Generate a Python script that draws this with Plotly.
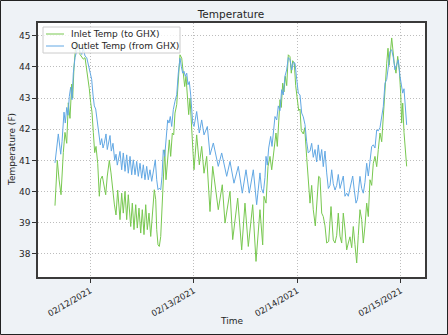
import pandas as pd
import plotly.graph_objects as go

# hours relative to 2021-02-12 00:00
inlet_hours = [-8.19, -7.65, -7.26, -6.79, -6.26, -5.87, -5.47, -5.10, -4.71, -4.31, -4.08, -3.78, -3.32, -2.78,
               -2.39, -1.99, -1.62, -1.23, -0.83, -0.46, -0.23, 0.09, 0.39, 0.70, 1.02, 1.32, 1.72, 2.09, 2.41,
               2.78, 3.18, 3.57, 3.94, 4.41, 4.80, 5.19, 5.57, 5.96, 6.35, 6.89, 7.28, 7.65, 8.05, 8.44, 8.81,
               9.37, 9.74, 10.13, 10.53, 10.90, 11.29, 11.69, 12.06, 12.45, 12.85, 13.22, 13.61, 14.01, 14.38,
               14.84, 15.17, 15.40, 15.70, 16.00, 16.33, 16.63, 16.93, 17.25, 17.55, 17.95, 18.32, 18.64, 19.02,
               19.34, 19.64, 20.04, 20.41, 20.80, 21.20, 21.57, 21.89, 22.19, 22.49, 22.82, 23.12, 24.05, 24.67,
               25.28, 25.83, 26.37, 26.99, 27.76, 28.38, 29.68, 30.61, 31.24, 32.40, 33.02, 34.18, 35.11, 35.87,
               36.64, 37.66, 38.43, 39.35, 39.98, 40.28, 40.75, 41.21, 41.67, 42.07, 42.44, 43.06, 43.37, 43.69,
               43.99, 44.29, 44.62, 44.92, 45.22, 45.55, 45.92, 46.31, 46.61, 46.94, 47.31, 47.63, 48.00, 48.33,
               48.63, 48.93, 49.39, 49.72, 50.18, 50.55, 50.95, 51.34, 51.71, 52.18, 52.57, 52.96, 53.27, 53.66,
               54.03, 54.43, 54.82, 55.28, 55.82, 56.35, 56.75, 57.14, 57.51, 57.91, 58.30, 58.67, 59.06, 59.46,
               59.83, 60.22, 60.62, 60.99, 61.38, 61.78, 62.15, 62.54, 62.94, 63.31, 63.70, 64.10, 64.47, 64.86,
               65.26, 65.63, 66.02, 66.42, 66.79, 67.18, 67.58, 67.95, 68.34, 68.74, 69.04, 69.30, 69.90, 70.20,
               70.50, 70.89, 71.29, 71.66, 71.98, 72.21, 72.45, 72.75, 73.05, 73.37]
inlet_temp = [39.55, 41.00, 40.40, 39.90, 41.25, 41.90, 41.55, 42.85, 42.35, 43.45, 43.00, 44.00, 44.80, 44.75,
              44.40, 44.30, 44.25, 44.30, 43.95, 43.65, 43.30, 42.85, 42.55, 41.90, 41.25, 41.45, 40.90, 39.85,
              40.40, 40.50, 40.20, 39.90, 40.50, 41.00, 40.60, 40.05, 39.60, 39.25, 40.05, 39.10, 39.95, 39.31,
              40.01, 39.10, 39.90, 38.88, 39.63, 38.78, 39.58, 38.83, 39.47, 38.67, 39.42, 38.62, 39.58, 38.78,
              39.31, 38.56, 39.20, 40.06, 39.74, 38.78, 38.29, 38.24, 38.56, 39.42, 40.06, 41.34, 40.38, 41.13,
              41.66, 41.13, 41.88, 41.82, 42.52, 42.79, 43.53, 44.39, 44.28, 43.70, 43.37, 43.70, 43.11, 42.47,
              43.00, 40.70, 41.82, 40.86, 41.45, 40.59, 41.13, 39.36, 40.81, 39.42, 40.22, 38.99, 40.01, 38.46,
              39.79, 38.13, 39.63, 38.24, 39.58, 37.76, 39.42, 38.29, 39.85, 39.63, 40.80, 41.13, 40.70, 41.13,
              41.88, 41.45, 42.41, 42.95, 42.70, 43.48, 43.20, 43.70, 43.40, 44.39, 44.33, 43.80, 44.20, 44.12,
              43.40, 42.95, 42.60, 42.65, 41.95, 41.85, 42.05, 41.10, 40.27, 39.63, 40.20, 39.42, 38.90, 39.63,
              40.49, 40.45, 39.31, 39.20, 38.90, 38.35, 38.40, 39.52, 38.45, 38.35, 38.60, 39.31, 38.57, 38.35,
              39.31, 38.80, 38.13, 38.35, 38.55, 38.20, 38.88, 38.30, 37.71, 38.60, 39.42, 39.10, 38.35, 38.90,
              39.63, 39.20, 40.38, 40.20, 40.91, 41.13, 40.80, 41.35, 41.88, 41.60, 42.52, 43.20, 44.12, 44.60,
              44.05, 44.93, 44.40, 44.10, 43.80, 44.34, 43.90, 43.16, 42.20, 42.84, 41.90, 41.34, 40.81]

outlet_hours = [-8.19, -7.42, -6.86, -6.56, -6.10, -5.80, -5.47, -5.17, -4.87, -4.55, -4.24, -3.94, -3.55, -3.15,
                -2.78, -2.39, -1.99, -1.62, -1.23, -0.83, -0.46, -0.07, 0.32, 0.63, 0.93, 1.25, 1.62, 2.02, 2.32,
                2.64, 2.95, 3.25, 3.64, 3.94, 4.27, 4.57, 4.87, 5.26, 5.66, 5.96, 6.26, 6.59, 6.89, 7.28, 7.65,
                8.05, 8.44, 8.81, 9.21, 9.60, 9.97, 10.37, 10.76, 11.13, 11.53, 11.92, 12.29, 12.68, 13.08, 13.45,
                13.84, 14.24, 14.61, 15.07, 15.40, 15.70, 16.00, 16.33, 16.63, 16.93, 17.25, 17.55, 17.95, 18.25,
                18.55, 18.88, 19.25, 19.64, 20.04, 20.41, 20.80, 21.10, 21.43, 21.73, 22.03, 22.36, 22.66, 22.96,
                23.28, 23.75, 24.05, 24.67, 25.28, 25.83, 26.37, 27.14, 27.76, 28.53, 29.68, 30.47, 31.63, 32.40,
                33.32, 34.32, 35.25, 36.11, 36.87, 37.80, 38.58, 39.35, 39.70, 40.12, 40.51, 40.75, 41.05, 41.37,
                41.83, 42.14, 42.44, 42.83, 43.23, 43.60, 43.99, 44.38, 44.75, 45.14, 45.53, 45.92, 46.31, 46.71,
                47.08, 47.47, 47.87, 48.24, 48.63, 49.02, 49.39, 49.79, 50.18, 50.55, 50.95, 51.34, 51.71, 52.11,
                52.50, 52.87, 53.27, 53.66, 54.03, 54.43, 54.82, 55.20, 55.59, 55.98, 56.35, 56.75, 57.14, 57.51,
                57.91, 58.30, 58.67, 59.06, 59.46, 59.83, 60.22, 60.85, 61.22, 61.62, 61.96, 62.24, 62.54, 62.94,
                63.31, 63.70, 64.10, 64.47, 64.86, 65.26, 65.63, 66.02, 66.42, 66.79, 67.18, 67.58, 67.95, 68.34,
                68.74, 69.11, 69.50, 69.90, 70.27, 70.66, 71.06, 71.43, 71.82, 72.21, 72.45, 72.75, 73.05, 73.37]
outlet_temp = [40.92, 41.85, 41.20, 41.60, 42.55, 42.20, 42.70, 42.45, 43.05, 43.35, 42.95, 43.80, 44.30, 44.55,
               44.70, 44.50, 44.40, 44.60, 44.35, 44.30, 44.05, 43.90, 43.60, 43.10, 42.75, 42.65, 42.30, 41.90,
               41.50, 41.70, 41.40, 41.55, 41.85, 41.35, 41.60, 41.80, 41.30, 41.55, 41.00, 41.20, 40.85, 41.05,
               41.29, 40.70, 41.24, 40.65, 41.18, 40.59, 41.13, 40.54, 41.02, 40.54, 40.97, 40.49, 40.91, 40.43,
               40.86, 40.38, 40.81, 40.38, 40.70, 40.33, 40.65, 41.02, 40.38, 40.06, 40.11, 40.06, 40.49, 41.34,
               41.13, 41.66, 42.30, 42.20, 42.41, 42.09, 42.63, 42.90, 43.11, 43.80, 44.28, 44.02, 43.80, 43.86,
               43.70, 43.80, 43.43, 43.53, 43.10, 42.20, 42.09, 42.57, 41.88, 42.30, 41.82, 42.09, 41.18, 41.56,
               40.81, 41.24, 40.49, 40.97, 40.27, 40.81, 39.95, 40.70, 39.95, 40.70, 39.58, 40.60, 40.10, 39.95,
               40.45, 41.13, 40.85, 41.40, 41.77, 41.45, 42.00, 42.41, 42.30, 42.75, 42.60, 43.27, 43.10, 43.70,
               43.90, 44.30, 44.23, 43.90, 44.15, 44.12, 43.60, 43.16, 43.10, 42.52, 42.40, 42.15, 41.60, 41.24,
               41.30, 41.55, 41.10, 41.35, 40.95, 41.50, 41.00, 41.35, 40.80, 41.30, 40.60, 40.10, 40.20, 40.70,
               40.25, 40.05, 40.20, 40.55, 40.10, 40.30, 40.50, 39.85, 39.95, 39.85, 40.10, 40.50, 40.05, 39.63,
               39.75, 40.20, 40.49, 40.10, 39.95, 40.30, 40.91, 40.50, 41.10, 41.45, 41.50, 41.40, 41.98, 41.95,
               42.05, 42.40, 42.73, 43.48, 43.60, 44.00, 44.50, 44.55, 44.30, 43.91, 44.10, 44.23, 43.70, 43.30,
               43.16, 43.30, 42.60, 42.14]

series_names = ["Inlet Temp (to GHX)", "Outlet Temp (from GHX)"]
series_colors = ["#78c850", "#62a8e4"]
tick_dates = ["2021-02-12", "2021-02-13", "2021-02-14", "2021-02-15"]
tick_labels = ["02/12/2021", "02/13/2021", "02/14/2021", "02/15/2021"]
y_ticks = [38, 39, 40, 41, 42, 43, 44, 45]

base = pd.Timestamp("2021-02-12")
t_in = base + pd.to_timedelta(inlet_hours, unit="h")
t_out = base + pd.to_timedelta(outlet_hours, unit="h")

FONT = "DejaVu Sans"
TXT = "#262626"
fig = go.Figure()
fig.add_trace(go.Scatter(x=t_in, y=inlet_temp, mode="lines", name=series_names[0],
                         line=dict(color=series_colors[0], width=1)))
fig.add_trace(go.Scatter(x=t_out, y=outlet_temp, mode="lines", name=series_names[1],
                         line=dict(color=series_colors[1], width=1)))

x0 = base + pd.Timedelta(hours=-12.13)
x1 = base + pd.Timedelta(hours=77.62)

# plot area: x 38..425 px, y 23..277 px
L, R, T, B = 38, 23, 23, 58
PW, PH = 448 - L - R, 335 - T - B


def px(x):
    return (x - L) / PW


def py(y):
    return (335 - B - y) / PH


GRID = dict(showgrid=True, gridcolor="#bdbdbd", griddash="1px,2px", gridwidth=1)

fig.update_layout(
    width=448, height=335,
    margin=dict(l=L, r=R, t=T, b=B),
    paper_bgcolor="#eef2f6", plot_bgcolor="white",
    font=dict(family=FONT, size=9, color=TXT),
    title=dict(text="Temperature", x=px(231), xanchor="center", xref="paper",
               y=1 - 14 / 335, yanchor="middle", font=dict(size=10.5, color=TXT), automargin=False),
    showlegend=False,
    xaxis=dict(range=[x0, x1], tickvals=[pd.Timestamp(d) for d in tick_dates], ticktext=tick_labels,
               tickangle=-30, ticks="outside", ticklen=4, tickcolor="#333", tickwidth=1, **GRID,
               showline=True, linecolor="#3a3a3a",
               linewidth=1.5, mirror=True, zeroline=False, tickfont=dict(size=8.5), automargin=False),
    yaxis=dict(range=[37.26, 45.41], tickvals=y_ticks, ticks="outside", ticklen=4, tickcolor="#333",
               tickwidth=1, **GRID, showline=True,
               linecolor="#3a3a3a", linewidth=1.5, mirror=True, zeroline=False, tickfont=dict(size=9),
               automargin=False),
)

# axis titles
fig.add_annotation(text="Time", xref="paper", yref="paper", x=px(231), y=py(321),
                   xanchor="center", yanchor="middle", showarrow=False, font=dict(size=9, color=TXT))
fig.add_annotation(text="Temperature (F)", xref="paper", yref="paper", x=px(12), y=py(150),
                   xanchor="center", yanchor="middle", textangle=-90, showarrow=False,
                   font=dict(size=9, color=TXT))

# legend box (drawn manually to match compact layout)
fig.add_shape(type="rect", xref="paper", yref="paper", x0=px(43), x1=px(180), y0=py(53), y1=py(27),
              line=dict(color="#cccccc", width=1), fillcolor="rgba(255,255,255,0.8)", layer="above")
for i, (name, col) in enumerate(zip(series_names, series_colors)):
    yy = 34 + 12 * i
    fig.add_shape(type="line", xref="paper", yref="paper", x0=px(46), x1=px(64), y0=py(yy), y1=py(yy),
                  line=dict(color=col, width=1), layer="above")
    fig.add_annotation(text=name, xref="paper", yref="paper", x=px(69), y=py(yy), xanchor="left",
                       yanchor="middle", showarrow=False, font=dict(size=9, color=TXT))

# outer figure border
fig.add_shape(type="rect", xref="paper", yref="paper",
              x0=px(0.5), x1=px(447.5), y0=py(334.5), y1=py(0.5),
              line=dict(color="#222", width=1), fillcolor="rgba(0,0,0,0)", layer="below")

fig.write_html("out.html")
